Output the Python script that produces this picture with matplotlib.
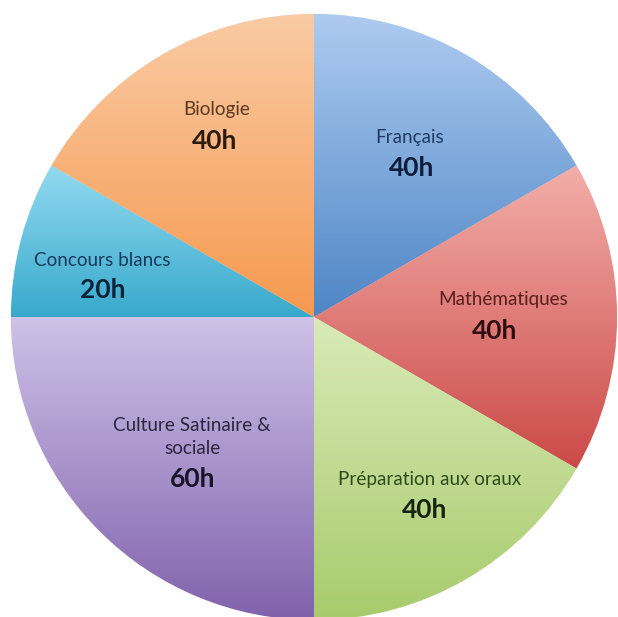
import numpy as np
import matplotlib
matplotlib.use('Agg')
import matplotlib.pyplot as plt
from matplotlib.colors import LinearSegmentedColormap

labels = ['Français', 'Mathématiques', 'Préparation aux oraux',
          'Culture Satinaire &\nsociale', 'Concours blancs', 'Biologie']
hours = [40, 40, 40, 60, 20, 40]
value_labels = ['40h', '40h', '40h', '60h', '20h', '40h']

# gradient colours (top, bottom) per slice
tops = ['#AECBF0', '#F3AEA9', '#D9EAB8', '#CFC2E8', '#93DAF1', '#FACBA4']
bottoms = ['#4E86C6', '#CB4A47', '#A8CB6C', '#8062AC', '#38A9CC', '#F6994F']
text_cols = ['#1F3A66', '#5A1E1C', '#2E4A1C', '#2E2440', '#173A5E', '#5A3A22']
value_cols = ['#0E1E3A', '#2E0E0E', '#142410', '#1A1228', '#0C2238', '#2A1A10']

# label positions in pixels (name, value)
cx, cy, R = 314, 317, 303
name_px = [(410, 138), (503, 300), (430, 480), (192, 437), (102, 260), (217, 110)]
val_px = [(412, 168), (495, 331), (425, 510), (193, 479), (103, 290), (215, 141)]

fig = plt.figure(figsize=(6.18, 6.17), dpi=100)
ax = fig.add_axes([0, 0, 1, 1])

wedges, _ = ax.pie(hours, startangle=90, counterclock=False, radius=1,
                   colors=bottoms, wedgeprops=dict(linewidth=0.6, edgecolor='#f4f4f4'))

for w, t, b in zip(wedges, tops, bottoms):
    ext = w.get_path().get_extents()
    cmap = LinearSegmentedColormap.from_list('g', [t, b])
    grad = np.linspace(0, 1, 256).reshape(-1, 1)
    im = ax.imshow(grad, cmap=cmap, aspect='auto', origin='upper',
                   extent=[ext.x0, ext.x1, ext.y0, ext.y1], zorder=w.get_zorder() + 0.1)
    im.set_clip_path(w)

def to_data(p):
    return (p[0] - cx) / R, (cy - p[1]) / R

for i in range(len(labels)):
    x, y = to_data(name_px[i])
    ax.text(x, y, labels[i], ha='center', va='center', fontsize=13.6,
            family='Lato', color=text_cols[i], zorder=5, linespacing=1.4)
    x, y = to_data(val_px[i])
    ax.text(x, y, value_labels[i], ha='center', va='center', fontsize=19,
            family='Lato', fontweight='bold', color=value_cols[i], zorder=5)

ax.set_aspect('auto')
ax.set_xlim(-cx / R, (618 - cx) / R)
ax.set_ylim(-(617 - cy) / R, cy / R)
ax.axis('off')

fig.savefig('out.png', dpi=100)
